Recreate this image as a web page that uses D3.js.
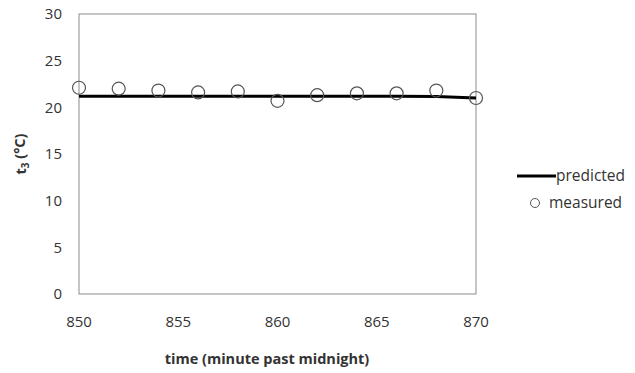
<!DOCTYPE html>
<html>
<head>
<meta charset="utf-8">
<script src="https://cdn.jsdelivr.net/npm/d3@7"></script>
<style>
  body { margin: 0; background: #fff; }
  text { font-family: "Open Sans", "Liberation Sans", sans-serif; fill: #333; }
</style>
</head>
<body>
<svg id="chart" width="635" height="373"></svg>
<script>
var times = [850, 852, 854, 856, 858, 860, 862, 864, 866, 868, 870];
var predicted = [21.2, 21.2, 21.2, 21.2, 21.2, 21.2, 21.2, 21.2, 21.2, 21.15, 21.0];
var measured = [22.1, 22.0, 21.8, 21.6, 21.7, 20.7, 21.3, 21.5, 21.5, 21.8, 21.0];
var xTicks = [850, 855, 860, 865, 870];
var yTicks = [0, 5, 10, 15, 20, 25, 30];

var svg = d3.select('#chart');
var plotLeft = 79, plotRight = 476, plotTop = 14, plotBottom = 294;

var x = d3.scaleLinear().domain([850, 870]).range([plotLeft, plotRight]);
var y = d3.scaleLinear().domain([0, 30]).range([plotBottom, plotTop]);

// frame
svg.append('rect')
    .attr('x', plotLeft).attr('y', plotTop)
    .attr('width', plotRight - plotLeft).attr('height', plotBottom - plotTop)
    .attr('fill', 'none').attr('stroke', '#8c8c8c').attr('stroke-width', 1);

// y tick labels
svg.append('g').selectAll('text').data(yTicks).enter().append('text')
    .attr('x', 62).attr('y', function(d) { return y(d); })
    .attr('dy', '0.35em').attr('text-anchor', 'end')
    .style('font-size', '15px')
    .text(function(d) { return d; });

// x tick labels
svg.append('g').selectAll('text').data(xTicks).enter().append('text')
    .attr('x', function(d) { return x(d); }).attr('y', 322)
    .attr('dy', '0.35em').attr('text-anchor', 'middle')
    .style('font-size', '15px')
    .text(function(d) { return d; });

// predicted line
var line = d3.line()
    .x(function(d, i) { return x(times[i]); })
    .y(function(d) { return y(d); });

svg.append('path').datum(predicted)
    .attr('d', line)
    .attr('fill', 'none').attr('stroke', '#000').attr('stroke-width', 3);

// measured circles
svg.append('g').selectAll('circle').data(measured).enter().append('circle')
    .attr('cx', function(d, i) { return x(times[i]); })
    .attr('cy', function(d) { return y(d); })
    .attr('r', 6.5)
    .attr('fill', 'none').attr('stroke', '#555').attr('stroke-width', 1.2);

// axis titles
svg.append('text')
    .attr('x', 267).attr('y', 359).attr('dy', '0.35em')
    .attr('text-anchor', 'middle')
    .style('font-size', '14.5px').style('font-weight', 'bold')
    .text('time (minute past midnight)');

var yt = svg.append('text')
    .attr('transform', 'translate(21,154) rotate(-90)')
    .attr('text-anchor', 'middle').attr('dy', '0.35em')
    .style('font-size', '14.5px').style('font-weight', 'bold');
yt.append('tspan').text('t');
yt.append('tspan').attr('dy', '0.3em').style('font-size', '10px').text('3');
yt.append('tspan').attr('dy', '-0.3em').text(' (°C)');

// legend
svg.append('line')
    .attr('x1', 517).attr('x2', 556).attr('y1', 176).attr('y2', 176)
    .attr('stroke', '#000').attr('stroke-width', 3);
svg.append('text')
    .attr('x', 556).attr('y', 176).attr('dy', '0.35em')
    .style('font-size', '15.5px').text('predicted');
svg.append('circle')
    .attr('cx', 535).attr('cy', 203).attr('r', 4.5)
    .attr('fill', 'none').attr('stroke', '#555').attr('stroke-width', 1);
svg.append('text')
    .attr('x', 549).attr('y', 203).attr('dy', '0.35em')
    .style('font-size', '15.5px').text('measured');
</script>
</body>
</html>
